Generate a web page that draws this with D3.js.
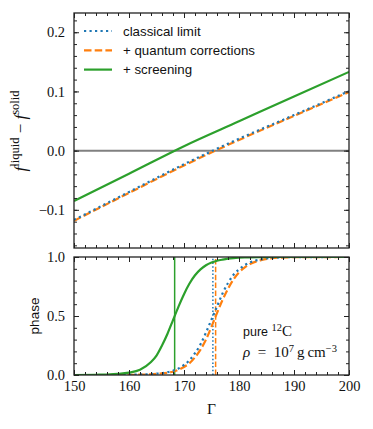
<!DOCTYPE html>
<html>
<head>
<meta charset="utf-8">
<script src="https://cdn.jsdelivr.net/npm/d3@7"></script>
<style>
  body { margin: 0; background: #fff; }
  svg { display: block; }
  .sans { font-family: "Liberation Sans", "DejaVu Sans", sans-serif; }
  .serif { font-family: "Liberation Serif", "DejaVu Serif", serif; }
</style>
</head>
<body>
<div id="chart"></div>
<script>
// free energy difference (top panel)
const gammaTop = [150, 160, 170, 180, 190, 200];
const dfClassical = [-0.117, -0.070, -0.023, 0.020, 0.060, 0.1005];
const dfQuantum = [-0.1185, -0.0715, -0.025, 0.018, 0.0585, 0.099];
const dfScreening = [-0.085, -0.039, 0.0075, 0.0495, 0.0915, 0.133];

// phase fraction (bottom panel)
const gammaPhase = [150, 154, 156, 158, 160, 162, 164, 165, 166, 167, 168, 169, 170, 171, 172,
  173, 174, 175, 176, 177, 178, 179, 180, 181, 182, 184, 186, 190, 200];
const phaseClassical = [0, 0, 0, 0.001, 0.002, 0.004, 0.008, 0.011, 0.016, 0.024, 0.036, 0.055, 0.085, 0.125, 0.185,
  0.26, 0.36, 0.47, 0.58, 0.69, 0.78, 0.85, 0.895, 0.93, 0.955, 0.98, 0.993, 0.999, 1];
const phaseQuantum = [0, 0, 0, 0.001, 0.001, 0.003, 0.006, 0.009, 0.013, 0.019, 0.028, 0.044, 0.068, 0.10, 0.15,
  0.215, 0.30, 0.41, 0.525, 0.635, 0.73, 0.81, 0.87, 0.91, 0.94, 0.973, 0.99, 0.998, 1];
const phaseScreening = [0, 0.002, 0.004, 0.009, 0.02, 0.045, 0.11, 0.165, 0.25, 0.35, 0.465, 0.58, 0.685, 0.775, 0.845,
  0.895, 0.93, 0.953, 0.968, 0.978, 0.986, 0.991, 0.994, 0.996, 0.997, 0.999, 1, 1, 1];

// melting points (vertical lines)
const meltGamma = [175.25, 175.75, 168.3];

const seriesNames = ["classical limit", "+ quantum corrections", "+ screening"];
const xTicks = [150, 160, 170, 180, 190, 200];
const topTicks = [-0.1, 0.0, 0.1, 0.2];
const phaseTicks = [0.0, 0.5, 1.0];

const styles = [
  {color: "#1f77b4", dash: "2.2,3.3", vdash: "1.5,2.2"},
  {color: "#ff7f0e", dash: "7.5,3.2", vdash: "5.5,2.4"},
  {color: "#2ca02c", dash: null, vdash: null}
];

const W = 373, H = 429;
const left = 74, right = 349;
const top1 = 13, bot1 = 248, top2 = 257, bot2 = 375;
const serifFont = '"Liberation Serif", "DejaVu Serif", serif';

const svg = d3.select("#chart").append("svg").attr("width", W).attr("height", H);

const x = d3.scaleLinear().domain([150, 200]).range([left, right]);
const y1 = d3.scaleLinear().domain([-0.1645, 0.2325]).range([bot1, top1]);
const y2 = d3.scaleLinear().domain([0, 1]).range([bot2, top2]);

const minorX = d3.range(150, 200.01, 2);
const fmtY = d => d < 0 ? "\u2212" + Math.abs(d).toFixed(1) : d.toFixed(1);

function axes(yScale, yTop, yBot, majorY, minorY, showX) {
  const g = svg.append("g");
  // minor ticks
  g.append("g").attr("transform", `translate(0,${yBot})`)
    .call(d3.axisBottom(x).tickValues(minorX).tickSize(-3).tickFormat(""));
  g.append("g").attr("transform", `translate(0,${yTop})`)
    .call(d3.axisTop(x).tickValues(minorX).tickSize(-3).tickFormat(""));
  g.append("g").attr("transform", `translate(${left},0)`)
    .call(d3.axisLeft(yScale).tickValues(minorY).tickSize(-3).tickFormat(""));
  g.append("g").attr("transform", `translate(${right},0)`)
    .call(d3.axisRight(yScale).tickValues(minorY).tickSize(-3).tickFormat(""));
  // major ticks
  g.append("g").attr("transform", `translate(0,${yBot})`)
    .call(d3.axisBottom(x).tickValues(xTicks).tickSize(-5).tickPadding(6)
      .tickFormat(showX ? d3.format("d") : ""));
  g.append("g").attr("transform", `translate(0,${yTop})`)
    .call(d3.axisTop(x).tickValues(xTicks).tickSize(-5).tickFormat(""));
  g.append("g").attr("transform", `translate(${left},0)`)
    .call(d3.axisLeft(yScale).tickValues(majorY).tickSize(-5).tickPadding(9).tickFormat(fmtY));
  g.append("g").attr("transform", `translate(${right},0)`)
    .call(d3.axisRight(yScale).tickValues(majorY).tickSize(-5).tickFormat(""));
  g.selectAll(".domain").remove();
  g.selectAll(".tick line").attr("stroke", "#222").attr("stroke-width", 1);
  g.selectAll(".tick text")
    .style("font-family", serifFont).style("font-size", "14.5px").attr("fill", "#111");
  g.append("rect")
    .attr("x", left).attr("y", yTop)
    .attr("width", right - left).attr("height", yBot - yTop)
    .attr("fill", "none").attr("stroke", "#222").attr("stroke-width", 1.3);
}

// clip paths
svg.append("clipPath").attr("id", "clip1").append("rect")
  .attr("x", left).attr("y", top1).attr("width", right - left).attr("height", bot1 - top1);
svg.append("clipPath").attr("id", "clip2").append("rect")
  .attr("x", left).attr("y", top2).attr("width", right - left).attr("height", bot2 - top2);

// ---- top panel
const p1 = svg.append("g").attr("clip-path", "url(#clip1)");
p1.append("line")
  .attr("x1", x(150)).attr("x2", x(200)).attr("y1", y1(0)).attr("y2", y1(0))
  .attr("stroke", "#808080").attr("stroke-width", 2);

const line1 = d3.line().x(d => x(d[0])).y(d => y1(d[1])).curve(d3.curveMonotoneX);
const topSeries = [dfClassical, dfQuantum, dfScreening];
// draw orange first so blue dots sit on top
[1, 0, 2].forEach(i => {
  p1.append("path")
    .datum(gammaTop.map((g, j) => [g, topSeries[i][j]]))
    .attr("d", line1)
    .attr("fill", "none")
    .attr("stroke", styles[i].color)
    .attr("stroke-width", 2.2)
    .attr("stroke-dasharray", styles[i].dash);
});

// ---- bottom panel
const p2 = svg.append("g").attr("clip-path", "url(#clip2)");
meltGamma.forEach((m, i) => {
  p2.append("line")
    .attr("x1", x(m)).attr("x2", x(m)).attr("y1", y2(0)).attr("y2", y2(1))
    .attr("stroke", styles[i].color).attr("stroke-width", 1.5)
    .attr("stroke-dasharray", styles[i].vdash);
});
const line2 = d3.line().x(d => x(d[0])).y(d => y2(d[1])).curve(d3.curveMonotoneX);
const phaseSeries = [phaseClassical, phaseQuantum, phaseScreening];
[1, 0, 2].forEach(i => {
  p2.append("path")
    .datum(gammaPhase.map((g, j) => [g, phaseSeries[i][j]]))
    .attr("d", line2)
    .attr("fill", "none")
    .attr("stroke", styles[i].color)
    .attr("stroke-width", 2.2)
    .attr("stroke-dasharray", styles[i].dash);
});

axes(y1, top1, bot1, topTicks, d3.range(-0.16, 0.2301, 0.02), false);
axes(y2, top2, bot2, phaseTicks, d3.range(0, 1.001, 0.1), true);

// ---- legend
const legend = svg.append("g").attr("transform", "translate(84,31)");
seriesNames.forEach((name, i) => {
  const row = legend.append("g").attr("transform", `translate(0,${i * 19.3})`);
  row.append("line").attr("x1", 0).attr("x2", 28).attr("y1", 0).attr("y2", 0)
    .attr("stroke", styles[i].color).attr("stroke-width", 2.2)
    .attr("stroke-dasharray", styles[i].dash);
  row.append("text").attr("class", "sans").attr("x", 39).attr("y", 4.5)
    .attr("font-size", 13.3).attr("fill", "#111").text(name);
});

// ---- axis labels
const ylab = svg.append("text").attr("class", "serif")
  .attr("transform", "translate(26,131) rotate(-90)")
  .attr("text-anchor", "middle").attr("font-size", 17).attr("fill", "#111");
ylab.append("tspan").attr("font-style", "italic").text("f");
ylab.append("tspan").attr("font-size", 12.5).attr("dy", -7).text("liquid");
ylab.append("tspan").attr("dy", 7).text(" \u2212 ");
ylab.append("tspan").attr("font-style", "italic").text("f");
ylab.append("tspan").attr("font-size", 12.5).attr("dy", -7).text("solid");

svg.append("text").attr("class", "sans")
  .attr("transform", `translate(39,${(top2 + bot2) / 2}) rotate(-90)`)
  .attr("text-anchor", "middle").attr("font-size", 13.5).attr("fill", "#111")
  .text("phase");

svg.append("text").attr("class", "serif")
  .attr("x", (left + right) / 2).attr("y", 414)
  .attr("text-anchor", "middle").attr("font-size", 15.5).attr("fill", "#111")
  .text("\u0393");

// ---- annotation
const a1 = svg.append("text").attr("x", 243).attr("y", 336).attr("fill", "#111");
a1.append("tspan").attr("class", "sans").attr("font-size", 12.5).text("pure ");
a1.append("tspan").attr("class", "serif").attr("font-size", 10.5).attr("dy", -5).text("12");
a1.append("tspan").attr("class", "serif").attr("font-size", 15).attr("dy", 5).text("C");

const a2 = svg.append("text").attr("class", "serif").attr("x", 243).attr("y", 357)
  .attr("font-size", 15).attr("fill", "#111");
a2.append("tspan").attr("font-style", "italic").text("\u03c1");
a2.append("tspan").text("\u2002=\u200210");
a2.append("tspan").attr("font-size", 10.5).attr("dy", -5).text("7");
a2.append("tspan").attr("dy", 5).text("\u2009g\u2009cm");
a2.append("tspan").attr("font-size", 10.5).attr("dy", -5).text("\u22123");
</script>
</body>
</html>
